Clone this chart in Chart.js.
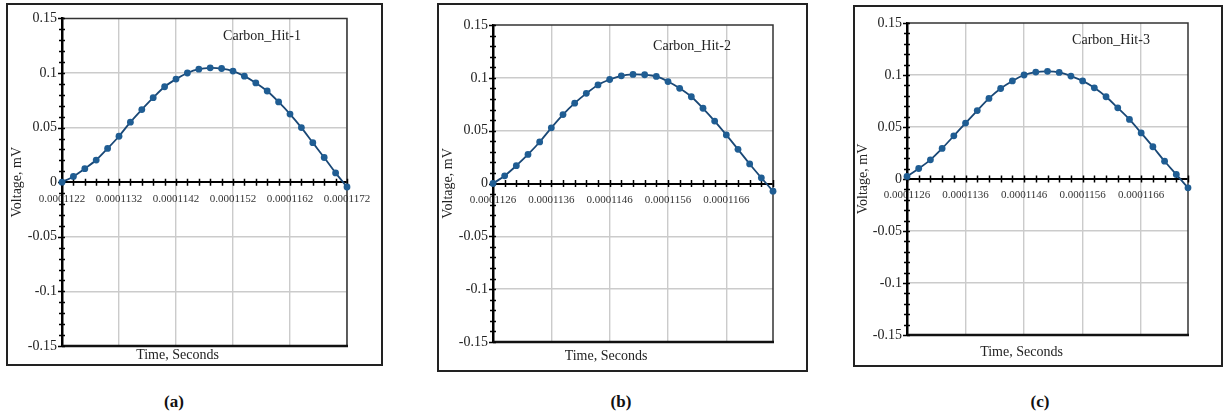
<!DOCTYPE html>
<html><head><meta charset="utf-8">
<script src="https://cdn.jsdelivr.net/npm/chart.js@4.4.1/dist/chart.umd.min.js"></script>
<style>
html,body{margin:0;padding:0;background:#fff}
body{width:1225px;height:415px;position:relative;overflow:hidden;font-family:'Liberation Serif','Times New Roman',serif}
.frame{position:absolute;border:2px solid #222;box-sizing:border-box;background:#fff}
.frame canvas{position:absolute;left:0;top:0}
.cap{position:absolute;font:bold 17px 'Liberation Serif',serif;color:#111;transform:translate(-50%,-50%);white-space:nowrap}
</style></head><body>
<div class="frame" style="left:6px;top:3px;width:377px;height:363px"><canvas id="ca" width="373" height="359"></canvas></div>
<div class="frame" style="left:437px;top:3px;width:371px;height:369px"><canvas id="cb" width="367" height="365"></canvas></div>
<div class="frame" style="left:853px;top:5px;width:370px;height:362px"><canvas id="cc" width="366" height="358"></canvas></div>
<div class="cap" style="left:174px;top:402px">(a)</div>
<div class="cap" style="left:621px;top:402px">(b)</div>
<div class="cap" style="left:1040px;top:402px">(c)</div>
<script>
// ---- data ----
const timeA = [0.0001122,0.0001124,0.0001126,0.0001128,0.0001130,0.0001132,0.0001134,0.0001136,0.0001138,0.0001140,0.0001142,0.0001144,0.0001146,0.0001148,0.0001150,0.0001152,0.0001154,0.0001156,0.0001158,0.0001160,0.0001162,0.0001164,0.0001166,0.0001168,0.0001170,0.0001172];
const voltA = [0,0.0053,0.0124,0.0203,0.0309,0.0421,0.0550,0.0665,0.0774,0.0874,0.0944,0.1000,0.1035,0.1047,0.1041,0.1018,0.0971,0.0909,0.0835,0.0735,0.0624,0.0500,0.0362,0.0226,0.0085,-0.0044];
const timeB = [0.0001126,0.0001128,0.0001130,0.0001132,0.0001134,0.0001136,0.0001138,0.0001140,0.0001142,0.0001144,0.0001146,0.0001148,0.0001150,0.0001152,0.0001154,0.0001156,0.0001158,0.0001160,0.0001162,0.0001164,0.0001166,0.0001168,0.0001170,0.0001172,0.0001174];
const voltB = [0,0.0073,0.0169,0.0275,0.0393,0.0527,0.0652,0.0760,0.0853,0.0933,0.0984,0.1019,0.1032,0.1029,0.1013,0.0965,0.0901,0.0821,0.0712,0.0591,0.0460,0.0323,0.0185,0.0054,-0.0073];
const timeC = [0.0001126,0.0001128,0.0001130,0.0001132,0.0001134,0.0001136,0.0001138,0.0001140,0.0001142,0.0001144,0.0001146,0.0001148,0.0001150,0.0001152,0.0001154,0.0001156,0.0001158,0.0001160,0.0001162,0.0001164,0.0001166,0.0001168,0.0001170,0.0001172,0.0001174];
const voltC = [0.0025,0.0101,0.0184,0.0294,0.0415,0.0538,0.0658,0.0775,0.0870,0.0943,0.1000,0.1028,0.1035,0.1025,0.0990,0.0943,0.0877,0.0791,0.0684,0.0573,0.0443,0.0310,0.0171,0.0044,-0.0085];
const xTicksA = [0.0001122,0.0001132,0.0001142,0.0001152,0.0001162,0.0001172];
const xTickLabelsA = ['0.0001122','0.0001132','0.0001142','0.0001152','0.0001162','0.0001172'];
const xTicksBC = [0.0001126,0.0001136,0.0001146,0.0001156,0.0001166];
const xTickLabelsBC = ['0.0001126','0.0001136','0.0001146','0.0001156','0.0001166'];
const yTicks = [-0.15,-0.1,-0.05,0,0.05,0.1,0.15];
const yTickLabels = ['-0.15','-0.1','-0.05','0','0.05','0.1','0.15'];
const seriesNames = ['Carbon_Hit-1','Carbon_Hit-2','Carbon_Hit-3'];
const xTitle = 'Time, Seconds';
const yTitle = 'Voltage, mV';
const yMinorStep = 0.01;
const xMinorStep = 0.0000002;

const FONT = "'Liberation Serif','Times New Roman',serif";

const decor = {
  id: 'decor',
  beforeDatasetsDraw(chart, args, o) {
    const {ctx, chartArea: a, scales: {x, y}} = chart;
    ctx.save();
    ctx.strokeStyle = '#333'; ctx.lineWidth = 1.5;
    ctx.beginPath();
    ctx.moveTo(a.left, a.top); ctx.lineTo(a.right, a.top); ctx.lineTo(a.right, a.bottom);
    ctx.stroke();
    ctx.strokeStyle = '#111'; ctx.lineWidth = 2.5;
    ctx.beginPath(); ctx.moveTo(a.left, a.bottom); ctx.lineTo(a.right + 1, a.bottom); ctx.stroke();
    ctx.strokeStyle = '#000'; ctx.lineWidth = 1.5;
    ctx.beginPath();
    const n = Math.round((y.max - y.min) / yMinorStep);
    for (let i = 0; i <= n; i++) {
      const py = Math.round(y.getPixelForValue(y.min + i * yMinorStep)) + 0.5;
      const major = i % 5 === 0;
      ctx.moveTo(a.left - (major ? 4 : 3), py); ctx.lineTo(a.left + 3, py);
    }
    const y0 = y.getPixelForValue(0);
    const m = Math.round((x.max - x.min) / xMinorStep);
    for (let i = 0; i <= m; i++) {
      const px = Math.round(x.getPixelForValue(x.min + i * xMinorStep)) + 0.5;
      ctx.moveTo(px, y0 - 3.5); ctx.lineTo(px, y0 + 3.5);
    }
    ctx.stroke();
    ctx.restore();
  },
  afterDraw(chart, args, o) {
    const {ctx} = chart;
    ctx.save();
    ctx.font = '14px ' + FONT;
    ctx.fillStyle = '#222';
    ctx.textAlign = 'center'; ctx.textBaseline = 'middle';
    ctx.fillText(o.label, o.lx, o.ly);
    ctx.restore();
  }
};

function makePanel(id, times, volts, xTicks, xLabels, name, g) {
  const W = g.w, H = g.h;
  const lh = 16.8;
  const bottomPad = Math.max(0, H - g.bottom - g.tTop - g.tBot - lh);
  new Chart(document.getElementById(id), {
    type: 'line',
    data: {
      datasets: [{
        label: name,
        data: times.map((t, i) => ({x: t, y: volts[i]})),
        borderColor: '#1a4876',
        borderWidth: 1.8,
        backgroundColor: '#1f5d93',
        pointBackgroundColor: '#1f5d93',
        pointBorderColor: '#1f5d93',
        pointBorderWidth: 0,
        pointRadius: 3.4,
        tension: 0.3,
        clip: false,
        fill: false
      }]
    },
    options: {
      responsive: false,
      animation: false,
      events: [],
      layout: {padding: {left: 0, top: g.top, right: W - g.right, bottom: bottomPad}},
      plugins: {
        legend: {display: false},
        tooltip: {enabled: false},
        title: {
          display: true, text: xTitle, position: 'bottom', color: '#222',
          font: {family: FONT, size: 14, weight: 'normal', lineHeight: 1.2},
          padding: {top: g.tTop, bottom: g.tBot}
        },
        decor: {label: name, lx: g.lx, ly: g.ly}
      },
      scales: {
        x: {
          type: 'linear',
          position: {y: 0},
          min: times[0], max: times[times.length - 1],
          afterBuildTicks: s => { s.ticks = xTicks.map(v => ({value: v})); },
          ticks: {
            callback: (v, i) => xLabels[i],
            font: {family: FONT, size: 11}, color: '#333',
            padding: 10, maxRotation: 0, minRotation: 0, autoSkip: false
          },
          grid: {color: '#cbcbcb', lineWidth: 1.4, drawTicks: false},
          border: {display: true, color: '#000', width: 2}
        },
        y: {
          type: 'linear',
          position: 'left',
          min: -0.15, max: 0.15,
          afterBuildTicks: s => { s.ticks = yTicks.map(v => ({value: v})); },
          afterFit: s => { s.width = g.left; },
          ticks: {
            callback: (v, i) => yTickLabels[i],
            font: {family: FONT, size: 14}, color: '#222', padding: 5
          },
          grid: {
            color: c => (c.tick && (c.tick.value === 0 || c.tick.value === 0.15)) ? 'rgba(0,0,0,0)' : '#cbcbcb',
            lineWidth: 1.4, drawTicks: false
          },
          border: {display: true, color: '#000', width: 2.5},
          title: {
            display: true, text: yTitle, color: '#222',
            font: {family: FONT, size: 14, weight: 'normal', lineHeight: 1.2},
            padding: {top: g.yt, bottom: 0}
          }
        }
      }
    },
    plugins: [decor]
  });
}

makePanel('ca', timeA, voltA, xTicksA, xTickLabelsA, seriesNames[0],
  {w: 373, h: 359, left: 54, right: 339, top: 9, bottom: 341, tTop: 1.2, tBot: 0, yt: 0.6, lx: 254, ly: 31});
makePanel('cb', timeB, voltB, xTicksBC, xTickLabelsBC, seriesNames[1],
  {w: 367, h: 365, left: 54, right: 334, top: 20, bottom: 337, tTop: 5.6, tBot: 5.6, yt: 0.6, lx: 253, ly: 41});
makePanel('cc', timeC, voltC, xTicksBC, xTickLabelsBC, seriesNames[2],
  {w: 366, h: 358, left: 52, right: 333, top: 16, bottom: 328, tTop: 9.3, tBot: 3.9, yt: 0, lx: 256, ly: 33});
</script>
</body></html>
